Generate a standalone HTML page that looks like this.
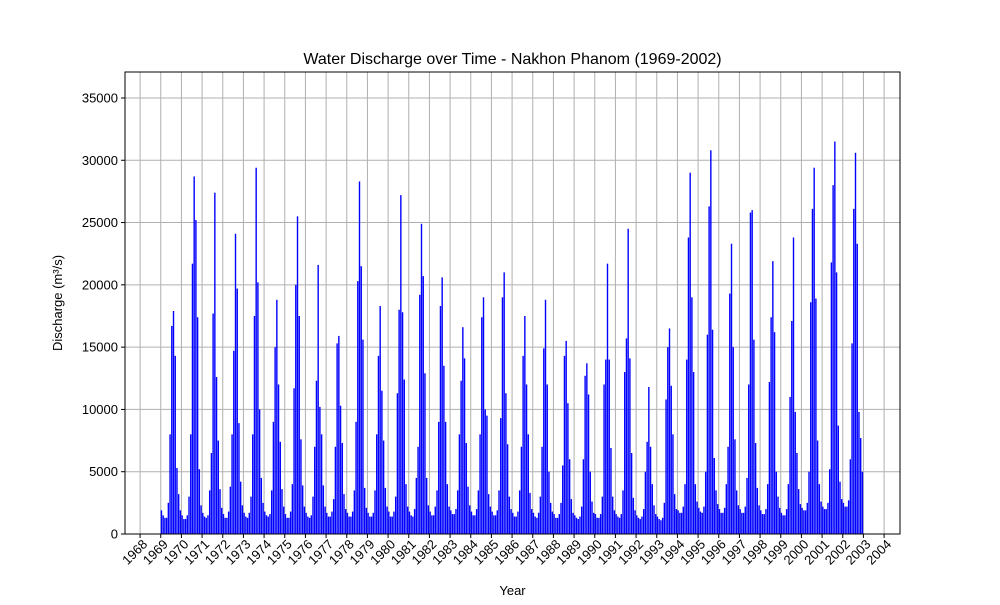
<!DOCTYPE html>
<html><head><meta charset="utf-8"><style>
body{margin:0;background:#fff;font-family:"Liberation Sans","DejaVu Sans",sans-serif}
</style></head><body>
<svg id="chart" width="1000" height="600" xmlns="http://www.w3.org/2000/svg"></svg>
<script>
const years = [];
for (let y = 1969; y <= 2002; y++) years.push(y);
// monthly discharge (m³/s), Jan..Dec per year
const discharge = [
 [1900,1500,1300,1300,2500,8000,16700,17900,14300,5300,3200,1900],
 [1500,1200,1200,1500,3000,8000,21700,28700,25200,17400,5200,2300],
 [1700,1400,1300,1500,3500,6500,17700,27400,12600,7500,3600,2100],
 [1600,1300,1300,1800,3800,8000,14700,24100,19700,8900,4200,2300],
 [1700,1400,1300,1700,3000,8000,17500,29400,20200,10000,4500,2500],
 [1800,1500,1400,1600,3500,9000,15000,18800,12000,7400,3600,2200],
 [1600,1300,1300,1800,4000,11700,20000,25500,17500,7600,3900,2200],
 [1700,1400,1300,1500,3000,7000,12300,21600,10200,8000,3900,2200],
 [1700,1400,1400,1800,2800,7000,15300,15900,10300,7300,3200,2000],
 [1700,1400,1400,1800,3500,9000,20300,28300,21500,15600,3700,2100],
 [1700,1400,1400,1700,3500,8000,14300,18300,11500,7500,3700,2200],
 [1800,1400,1400,1800,3000,11300,18000,27200,17800,12400,4000,2200],
 [1800,1500,1400,2000,4500,7000,19200,24900,20700,12900,4500,2300],
 [1800,1500,1500,2200,3500,9000,18300,20600,13500,9000,4000,2200],
 [1900,1600,1600,2000,3500,8000,12300,16600,14100,7300,3800,2300],
 [1800,1500,1500,2000,3500,8000,17400,19000,10000,9500,3200,2200],
 [1800,1500,1500,1900,3500,9300,19000,21000,11300,7200,3000,2000],
 [1700,1400,1400,1800,3500,7000,14300,17500,12000,8000,3300,2000],
 [1700,1400,1300,1700,3000,7000,14900,18800,12000,5000,2500,1800],
 [1600,1300,1300,1600,2500,5500,14300,15500,10500,6000,2800,1700],
 [1500,1300,1200,1400,2200,6000,12700,13700,11200,5000,2600,1700],
 [1600,1300,1300,1600,3000,12000,14000,21700,14000,6900,3000,1900],
 [1600,1400,1300,1600,3500,13000,15700,24500,14100,6500,2900,1900],
 [1500,1300,1200,1400,2000,5000,7400,11800,7000,4000,2300,1600],
 [1400,1200,1100,1300,2500,10800,15000,16500,11900,8000,3200,2000],
 [1900,1700,1700,2200,4000,14000,23800,29000,19000,13000,4000,2600],
 [2100,1800,1700,2200,5000,16000,26300,30800,16400,6100,3500,2400],
 [2000,1700,1700,2100,4000,7000,19300,23300,15000,7600,3500,2300],
 [2000,1700,1700,2200,4500,12000,25800,26000,15600,7300,3700,2300],
 [1900,1600,1600,2000,4000,12200,17400,21900,16200,5000,3000,2100],
 [1700,1500,1500,2000,4000,11000,17100,23800,9800,6500,3600,2400],
 [2100,1900,1900,2500,5000,18600,26100,29400,18900,7500,4000,2600],
 [2200,2000,2000,2500,5200,21800,28000,31500,21000,8700,4200,2800],
 [2500,2200,2200,2700,6000,15300,26100,30600,23300,9800,7700,5000]
];
const yTicks = [0,5000,10000,15000,20000,25000,30000,35000];
const xTicks = [];
for (let y = 1968; y <= 2004; y++) xTicks.push(y);

const svg = document.getElementById('chart');
const NS = 'http://www.w3.org/2000/svg';
const L=125,R=900,T=72,B=534;
const xMin=1967.27,xMax=2004.77,yMax=37085;
const xs = v => L + (v - xMin) / (xMax - xMin) * (R - L);
const ys = v => B - v / yMax * (B - T);
function mk(tag, attrs, parent){const e=document.createElementNS(NS,tag);for(const k in attrs)e.setAttribute(k,attrs[k]);(parent||svg).appendChild(e);return e;}

const grid = mk('g',{});


xTicks.forEach(t=>{mk('line',{x1:xs(t),x2:xs(t),y1:T,y2:B,stroke:'#b0b0b0','stroke-width':1},grid);});
yTicks.forEach(t=>{mk('line',{x1:L,x2:R,y1:ys(t),y2:ys(t),stroke:'#b0b0b0','stroke-width':1},grid);});

const bars = mk('g',{});


years.forEach((yr,i)=>{
  discharge[i].forEach((v,m)=>{
    const x0 = xs(yr + m/12);
    const r = mk('rect',{x:x0,y:ys(v),width:1.4,height:B-ys(v),fill:'#0000ff'},bars);
    
    
  });
});

const frame = mk('rect',{x:L,y:T,width:R-L,height:B-T,fill:'none',stroke:'#000','stroke-width':1});



const yAxis = mk('g',{});


yTicks.forEach(t=>{
  mk('line',{x1:L-4,x2:L,y1:ys(t),y2:ys(t),stroke:'#000'},yAxis);
  const tx = mk('text',{x:L-7,y:ys(t)+4.5,'text-anchor':'end','font-size':13},yAxis);
  tx.textContent = t;
  
  
});
const xAxis = mk('g',{});


xTicks.forEach(t=>{
  const x = xs(t);
  mk('line',{x1:x,x2:x,y1:B,y2:B+4,stroke:'#000'},xAxis);
  const ax = x+8, ay = B+11;
  const tx = mk('text',{x:ax,y:ay,'text-anchor':'end','font-size':13,transform:`rotate(-45 ${ax} ${ay})`},xAxis);
  tx.textContent = t;
  
  
});
const title = mk('text',{x:(L+R)/2,y:64,'text-anchor':'middle','font-size':16});
title.textContent='Water Discharge over Time - Nakhon Phanom (1969-2002)';


const xl = mk('text',{x:(L+R)/2,y:595,'text-anchor':'middle','font-size':13});
xl.textContent='Year';


const yl = mk('text',{x:62,y:(T+B)/2,'text-anchor':'middle','font-size':13,transform:`rotate(-90 62 ${(T+B)/2})`});
yl.textContent='Discharge (m³/s)';


</script>
</body></html>
